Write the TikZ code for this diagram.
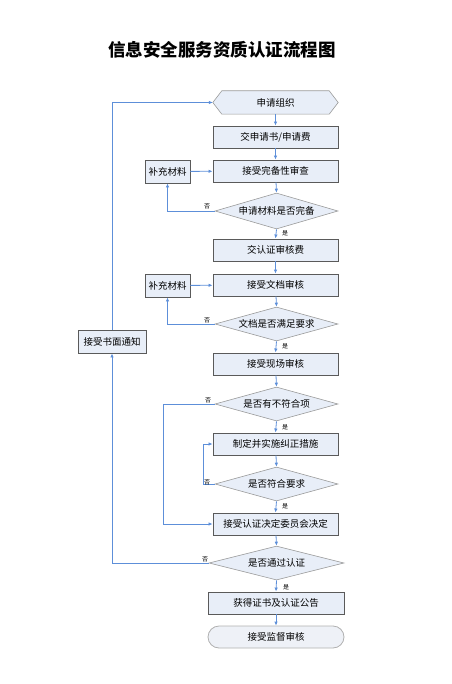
\documentclass[tikz,border=0pt]{standalone}
\usepackage{fontspec}
\setmainfont{Noto Sans CJK SC}
\usetikzlibrary{shapes.geometric,calc,arrows.meta,shadows}
\definecolor{boxfill}{HTML}{E8EEF8}
\definecolor{boxline}{HTML}{5A5A5A}
\definecolor{dialine}{HTML}{9A9A9A}
\definecolor{flow}{HTML}{5D8FD9}
\definecolor{termfill}{HTML}{EEF1F7}
\definecolor{termline}{HTML}{B0B0B0}
\begin{document}
\begin{tikzpicture}[x=1pt,y=-1pt,
  every node/.style={inner sep=0pt, font=\fontsize{9.5}{11}\selectfont},
  procbox/.style={draw=boxline, fill=boxfill, line width=0.9pt, minimum width=125, minimum height=22,
     drop shadow={shadow xshift=1pt, shadow yshift=-1pt, opacity=0.35, fill=gray}},
  sidebox/.style={procbox, minimum width=45, minimum height=23},
  decide/.style={diamond, aspect=3.6, draw=dialine, fill=boxfill, line width=0.6pt, minimum width=123, minimum height=34, inner sep=0pt},
  term/.style={draw=termline, fill=termfill, line width=0.8pt, rounded corners=11, minimum width=136, minimum height=22},
  flowline/.style={draw=flow, line width=0.8pt},
  arr/.style={flowline, -{Latex[length=4pt,width=3.5pt]}},
  yn/.style={font=\fontsize{6}{7}\selectfont}
]
\useasboundingbox (0,0) rectangle (451,684);
\node[font=\fontsize{17.5}{20}\selectfont\bfseries] (title) at (222,50) {信息安全服务资质认证流程图};

% hexagon start
\node[minimum width=125, minimum height=23] (hex) at (275.5,102.5) {};
\draw[draw=dialine, fill=boxfill, line width=0.6pt] (hex.west) -- ($(hex.north west)+(9,0)$) -- ($(hex.north east)+(-9,0)$) -- (hex.east) -- ($(hex.south east)+(-9,0)$) -- ($(hex.south west)+(9,0)$) -- cycle;
\node (hexlabel) at (hex.center) {申请组织};

\node[procbox] (b1) at (275.5,137) {交申请书/申请费};
\node[procbox] (b2) at (275.5,171) {接受完备性审查};
\node[decide, minimum height=36] (d1) at (276.5,211) {申请材料是否完备};
\node[procbox] (b3) at (275.5,250) {交认证审核费};
\node[procbox] (b4) at (275.5,285) {接受文档审核};
\node[decide] (d2) at (276.5,324) {文档是否满足要求};
\node[procbox] (b5) at (275.5,364) {接受现场审核};
\node[decide] (d3) at (276.5,404) {是否有不符合项};
\node[procbox] (b6) at (275.5,444) {制定并实施纠正措施};
\node[decide] (d4) at (276.5,484) {是否符合要求};
\node[procbox] (b7) at (275.5,524) {接受认证决定委员会决定};
\node[decide, minimum width=135] (d5) at (276.5,563) {是否通过认证};
\node[procbox, minimum width=136] (b8) at (276,603) {获得证书及认证公告};
\node[term] (t) at (276,637) {接受监督审核};

\node[sidebox] (s1) at (167.5,171.5) {补充材料};
\node[sidebox] (s2) at (167.5,285.5) {补充材料};
\node[sidebox, minimum width=68] (n) at (112,341.5) {接受书面通知};

% main flow
\draw[arr] (hex.south) -- (b1.north);
\draw[arr] (b1) -- (b2);
\draw[arr] (b2) -- (d1.north);
\draw[arr] (d1.south) -- (b3.north);
\draw[arr] (b3) -- (b4);
\draw[arr] (b4) -- (d2.north);
\draw[arr] (d2.south) -- (b5.north);
\draw[arr] (b5) -- (d3.north);
\draw[arr] (d3.south) -- (b6.north);
\draw[arr] (b6) -- (d4.north);
\draw[arr] (d4.south) -- (b7.north);
\draw[arr] (b7) -- (d5.north);
\draw[arr] (d5.south) -- (b8.north);
\draw[arr] (b8) -- (t);

% yes labels
\node[yn] at (285,233) {是};
\node[yn] at (285,346) {是};
\node[yn] at (285,427) {是};
\node[yn] at (285,506) {是};
\node[yn] at (286,587) {是};

% side loops
\draw[arr] (d1.west) -| (s1.south);
\draw[arr] (s1) -- (b2);
\node[yn] at (207,206) {否};
\draw[arr] (d2.west) -| (s2.south);
\draw[arr] (s2) -- (b4);
\node[yn] at (207,320) {否};

\draw[arr] (d3.west) -- ++(-51.5,0) coordinate (c3) |- (b7.west);
\node[yn] at (208,400) {否};
\draw[arr] (d4.west) -- ++(-11,0) coordinate (c4) |- (b6.west);
\node[yn] at (207,482) {否};

\draw[arr] (d5.west) -| (n.south);
\node[yn] at (205,559) {否};
\draw[arr] (n.north) |- (hex.west);
\end{tikzpicture}
\end{document}
